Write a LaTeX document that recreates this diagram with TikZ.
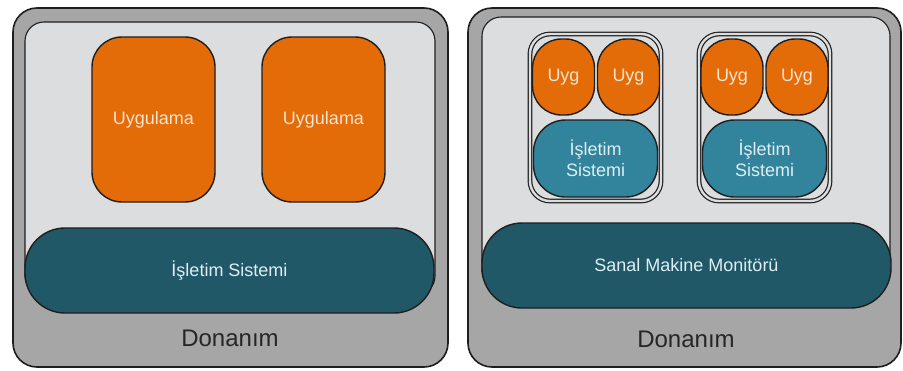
\documentclass[tikz,border=0pt]{standalone}
\usepackage{fontspec}
\setmainfont{Liberation Sans}
\definecolor{hwgray}{HTML}{A6A6A6}
\definecolor{panel}{HTML}{DCDDDE}
\definecolor{edge}{HTML}{1E1E1E}
\definecolor{appor}{HTML}{E36C09}
\definecolor{apptxt}{HTML}{FDE3CC}
\definecolor{osdark}{HTML}{215868}
\definecolor{oslight}{HTML}{31849B}
\definecolor{ostxt}{HTML}{DDEFF5}
\tikzset{
  hwbox/.style={draw=edge, line width=1.6pt, fill=hwgray, rounded corners=24pt, minimum width=#1, inner sep=0pt},
  panelbox/.style={draw=edge, line width=1.1pt, fill=panel, rounded corners=19pt},
  appbox/.style={draw=edge, line width=1.4pt, fill=appor, text=apptxt, rounded corners=30pt, minimum width=123pt, minimum height=165pt, inner sep=0pt, font=\fontsize{18}{21}\selectfont},
  uygbox/.style={draw=edge, line width=1.4pt, fill=appor, text=apptxt, rounded corners=29pt, minimum width=62pt, minimum height=76pt, inner sep=0pt, font=\fontsize{18}{21}\selectfont},
  osbig/.style={draw=edge, line width=1.4pt, fill=osdark, text=ostxt, rounded corners=40pt, minimum width=409pt, minimum height=85pt, inner sep=0pt, font=\fontsize{18}{21}\selectfont},
  ossmall/.style={draw=edge, line width=1.4pt, fill=oslight, text=ostxt, rounded corners=32pt, minimum width=124pt, minimum height=77pt, inner sep=0pt, align=center, font=\fontsize{18}{21}\selectfont},
  vmbox/.style={draw=edge, line width=1.2pt, double=panel, double distance=2.4pt, rounded corners=20pt, minimum width=131pt, minimum height=167pt, inner sep=0pt},
  hwlabel/.style={text=black!85, font=\fontsize{24}{28}\selectfont, inner sep=0pt}
}
\begin{document}
\begin{tikzpicture}[x=1pt,y=-1pt]
\useasboundingbox[fill=white] (0,0) rectangle (903,370);
% ---------- left panel ----------
\node[hwbox=435pt, minimum height=359pt] (hw1) at (230.5,187.5) {};
\draw[panelbox] (25,22) rectangle (435,295);
\node[osbig] (os1) at (229.5,270.5) {İşletim Sistemi};
\node[appbox] (app1) at (153.5,119.5) {Uygulama};
\node[appbox] (app2) at (323.5,119.5) {Uygulama};
\node[hwlabel] (hwl1) at (230,338) {Donanım};
% ---------- right panel ----------
\node[hwbox=433pt, minimum height=359pt] (hw2) at (684.5,187.5) {};
\draw[panelbox] (482,17) rectangle (890,290);
\node[osbig] (vmm) at (686.5,265.5) {Sanal Makine Monitörü};
\node[hwlabel] (hwl2) at (686,339) {Donanım};
% VM 1
\node[vmbox] (vm1) at (595.5,117.5) {};
\node[uygbox] (u1a) at (563.5,77) {Uyg};
\node[uygbox] (u1b) at (628.5,77) {Uyg};
\node[ossmall] (os1a) at (595.5,158.5) {İşletim\\Sistemi};
% VM 2
\node[vmbox] (vm2) at (764.5,117.5) {};
\node[uygbox] (u2a) at (732,77) {Uyg};
\node[uygbox] (u2b) at (797,77) {Uyg};
\node[ossmall] (os2a) at (764.5,158.5) {İşletim\\Sistemi};
\end{tikzpicture}
\end{document}
